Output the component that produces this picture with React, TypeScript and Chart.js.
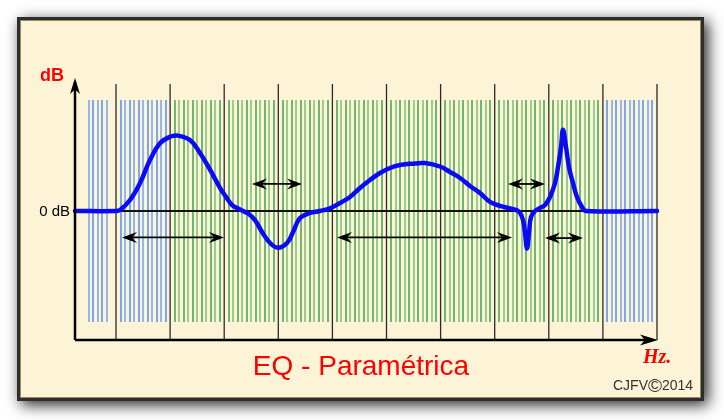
import React, { useEffect, useRef } from "react";
import { Chart, registerables } from "chart.js";

Chart.register(...registerables);

// Curve: x = position along frequency axis (decade lines every 10 units), y = gain in dB
const curveX = [
  -7.58, 0, 0.74, 2.59, 4.44, 6.28, 8.13, 9.98, 11.28, 13.68, 15.53, 17.38, 19.22, 20.33, 21.44, 22.92,
  24.4, 25.69, 26.99, 28.47, 29.94, 31.61, 32.72, 34.01, 35.86, 37.71, 39.56, 41.4, 43.25, 45.1, 46.95,
  48.8, 50.65, 52.5, 55.27, 57.12, 59.89, 61.74, 63.59, 65.43, 67.28, 69.13, 70.98, 72.83, 74.12, 74.68,
  75.23, 75.6, 75.97, 76.34, 76.71, 77.45, 78.37, 79.3, 80.22, 81.15, 81.7, 82.26, 82.62, 83.18, 83.73,
  84.47, 85.21, 86.14, 86.88, 100,
];
const curveDb = [
  0, 0, 0.15, 1.7, 4.34, 7.9, 10.5, 11.5, 11.7, 11.0, 9.0, 6.4, 3.6, 2.2, 0.93, 0.23,
  -0.39, -1.4, -3.26, -4.96, -5.7, -4.96, -3.26, -1.09, -0.31, 0, 0.42, 1.24, 2.17, 3.57, 4.81,
  5.89, 6.67, 7.13, 7.36, 7.44, 6.9, 6.05, 5.12, 3.88, 2.79, 1.4, 0.8, 0.4, 0.1, -0.3,
  -1.4, -3.4, -5.8, -3.4, -0.93, 0, 0.47, 0.93, 2.17, 4.34, 6.82, 9.92, 12.6, 9.92, 6.82,
  4.34, 2.17, 0.62, 0, 0,
];

// Decade grid lines (black) and fine grid
const decadeLines = [0, 10, 20, 30, 40, 50, 60, 70, 80, 90, 100];
const fineLinesPerDecade = 12;
const leftFineSteps = [2, 3, 4, 5, 6];
const blueRegions = [[-10, 10], [90, 100]];

// Double-headed range arrows
const arrowStart = [1.11, 25.14, 40.85, 72.46, 79.3];
const arrowEnd = [19.96, 34.38, 73.2, 79.3, 86.32];
const arrowDb = [-4.1, 4.19, -4.1, 4.19, -4.2];

const titleText = "EQ - Paramétrica";
const yLabel = "dB";
const zeroLabel = "0 dB";
const xLabel = "Hz.";
const creditName = "CJFV";
const creditMark = "©";
const creditYear = "2014";

function head(ctx: CanvasRenderingContext2D, tx: number, ty: number, dir: number, L: number, H: number, N: number, vertical = false) {
  ctx.beginPath();
  if (!vertical) {
    ctx.moveTo(tx, ty);
    ctx.lineTo(tx - dir * L, ty - H);
    ctx.lineTo(tx - dir * (L - N), ty);
    ctx.lineTo(tx - dir * L, ty + H);
  } else {
    ctx.moveTo(tx, ty);
    ctx.lineTo(tx - H, ty - dir * L);
    ctx.lineTo(tx, ty - dir * (L - N));
    ctx.lineTo(tx + H, ty - dir * L);
  }
  ctx.closePath();
  ctx.fill();
}

const decorPlugin = {
  id: "decor",
  beforeDraw(chart: any) {
    const ctx: CanvasRenderingContext2D = chart.ctx;
    ctx.save();
    ctx.fillStyle = "#ffffff";
    ctx.fillRect(0, 0, chart.width, chart.height);
    ctx.shadowColor = "rgba(0,0,0,0.85)";
    ctx.shadowBlur = 14;
    ctx.shadowOffsetX = 4;
    ctx.shadowOffsetY = 4;
    ctx.fillStyle = "#2e2e2e";
    ctx.fillRect(17, 17, 687, 384);
    ctx.restore();
    ctx.save();
    ctx.fillStyle = "#fdf4d8";
    ctx.fillRect(20, 20, 681, 378);
    ctx.strokeStyle = "#9a8a58";
    ctx.lineWidth = 1;
    ctx.strokeRect(20.5, 20.5, 680, 377);
    ctx.restore();
  },
  beforeDatasetsDraw(chart: any) {
    const ctx: CanvasRenderingContext2D = chart.ctx;
    const xs = chart.scales.x;
    const ys = chart.scales.y;
    const top = ys.getPixelForValue(17.2);
    const bot = ys.getPixelForValue(-17.2);
    const isBlue = (v: number) => blueRegions.some(([a, b]) => v > a && v < b);
    const drawFine = (v: number, k: number) => {
      const px = Math.round(xs.getPixelForValue(v));
      const blue = isBlue(v);
      const dark = k % 2 === 1;
      ctx.strokeStyle = blue ? (dark ? "#4f8ff0" : "#94b8ea") : dark ? "#3ea34c" : "#9acd8c";
      ctx.lineWidth = dark ? 1.5 : 2;
      ctx.beginPath();
      ctx.moveTo(px, top);
      ctx.lineTo(px, bot);
      ctx.stroke();
    };
    ctx.save();
    leftFineSteps.forEach((k) => drawFine(-k * (10 / fineLinesPerDecade), k));
    for (let d = 0; d < decadeLines.length - 1; d++) {
      for (let k = 1; k < fineLinesPerDecade; k++) {
        drawFine(decadeLines[d] + k * (10 / fineLinesPerDecade), k);
      }
    }
    const gTop = ys.getPixelForValue(19.7);
    const gBot = ys.getPixelForValue(-20);
    ctx.strokeStyle = "#2a2a2a";
    ctx.lineWidth = 1.3;
    decadeLines.forEach((v) => {
      const px = xs.getPixelForValue(v);
      ctx.beginPath();
      ctx.moveTo(px, gTop);
      ctx.lineTo(px, gBot);
      ctx.stroke();
    });
    // zero line
    const y0 = ys.getPixelForValue(0);
    ctx.strokeStyle = "#111";
    ctx.lineWidth = 2;
    ctx.beginPath();
    ctx.moveTo(xs.left, y0);
    ctx.lineTo(xs.getPixelForValue(100), y0);
    ctx.stroke();
    ctx.restore();
  },
  afterDatasetsDraw(chart: any) {
    const ctx: CanvasRenderingContext2D = chart.ctx;
    const xs = chart.scales.x;
    const ys = chart.scales.y;
    const area = chart.chartArea;
    ctx.save();
    ctx.fillStyle = "#000";
    ctx.strokeStyle = "#000";
    // axes
    ctx.lineWidth = 2.5;
    ctx.beginPath();
    ctx.moveTo(area.left, area.bottom);
    ctx.lineTo(area.left, area.top);
    ctx.stroke();
    head(ctx, area.left, area.top - 4, -1, 16, 5, 4.5, true);
    ctx.beginPath();
    ctx.moveTo(area.left, area.bottom);
    ctx.lineTo(area.right - 6, area.bottom);
    ctx.stroke();
    head(ctx, area.right + 1, area.bottom, 1, 18, 5.5, 5);
    // range arrows
    ctx.lineWidth = 1.8;
    arrowStart.forEach((s, i) => {
      const x1 = xs.getPixelForValue(s);
      const x2 = xs.getPixelForValue(arrowEnd[i]);
      const y = ys.getPixelForValue(arrowDb[i]);
      ctx.beginPath();
      ctx.moveTo(x1 + 6, y);
      ctx.lineTo(x2 - 6, y);
      ctx.stroke();
      head(ctx, x1, y, -1, 15, 5.5, 5);
      head(ctx, x2, y, 1, 15, 5.5, 5);
    });
    ctx.restore();
  },
  afterDraw(chart: any) {
    const ctx: CanvasRenderingContext2D = chart.ctx;
    const ys = chart.scales.y;
    const area = chart.chartArea;
    ctx.save();
    ctx.fillStyle = "#ff0000";
    ctx.font = "bold 18px Arial, 'Liberation Sans', sans-serif";
    ctx.textAlign = "left";
    ctx.textBaseline = "alphabetic";
    ctx.fillText(yLabel, 40, 81);
    ctx.fillStyle = "#000";
    ctx.font = "15px Arial, 'Liberation Sans', sans-serif";
    ctx.textAlign = "right";
    ctx.textBaseline = "middle";
    ctx.fillText(zeroLabel, 70, ys.getPixelForValue(0) + 1);
    ctx.fillStyle = "#ff0000";
    ctx.font = "28px Arial, 'Liberation Sans', sans-serif";
    ctx.textAlign = "center";
    ctx.textBaseline = "alphabetic";
    ctx.fillText(titleText, 361, 375);
    ctx.font = "italic bold 20px 'Liberation Serif', 'DejaVu Serif', serif";
    ctx.textAlign = "left";
    ctx.fillText(xLabel, area.right - 14, 363);
    ctx.fillStyle = "#333";
    ctx.font = "14px Arial, 'Liberation Sans', sans-serif";
    let cx = 613;
    ctx.fillText(creditName, cx, 390);
    cx += ctx.measureText(creditName).width;
    ctx.font = "19px Arial, 'Liberation Sans', sans-serif";
    ctx.fillText(creditMark, cx, 391.5);
    cx += ctx.measureText(creditMark).width;
    ctx.font = "14px Arial, 'Liberation Sans', sans-serif";
    ctx.fillText(creditYear, cx, 390);
    ctx.restore();
  },
};

export default function App() {
  const ref = useRef<HTMLCanvasElement | null>(null);
  useEffect(() => {
    if (!ref.current) return;
    const chart = new Chart(ref.current, {
      type: "line",
      data: {
        datasets: [
          {
            data: curveX.map((x, i) => ({ x, y: curveDb[i] })),
            borderColor: "#0a0af5",
            borderWidth: 4.5,
            pointRadius: 0,
            tension: 0.4,
            fill: false,
            borderJoinStyle: "round",
            borderCapStyle: "round",
            clip: false,
          } as any,
        ],
      },
      options: {
        animation: false,
        responsive: false,
        devicePixelRatio: 1,
        layout: { padding: { left: 75, right: 67, top: 82, bottom: 80 } },
        plugins: { legend: { display: false }, tooltip: { enabled: false } },
        scales: {
          x: { type: "linear", min: -7.58, max: 100, display: false },
          y: { type: "linear", min: -20, max: 20, display: false },
        },
      },
      plugins: [decorPlugin],
    });
    return () => chart.destroy();
  }, []);
  return (
    <div style={{ position: "fixed", left: 0, top: 0, width: 724, height: 420, background: "#fff" }}>
      <canvas ref={ref} width={724} height={420} />
    </div>
  );
}
